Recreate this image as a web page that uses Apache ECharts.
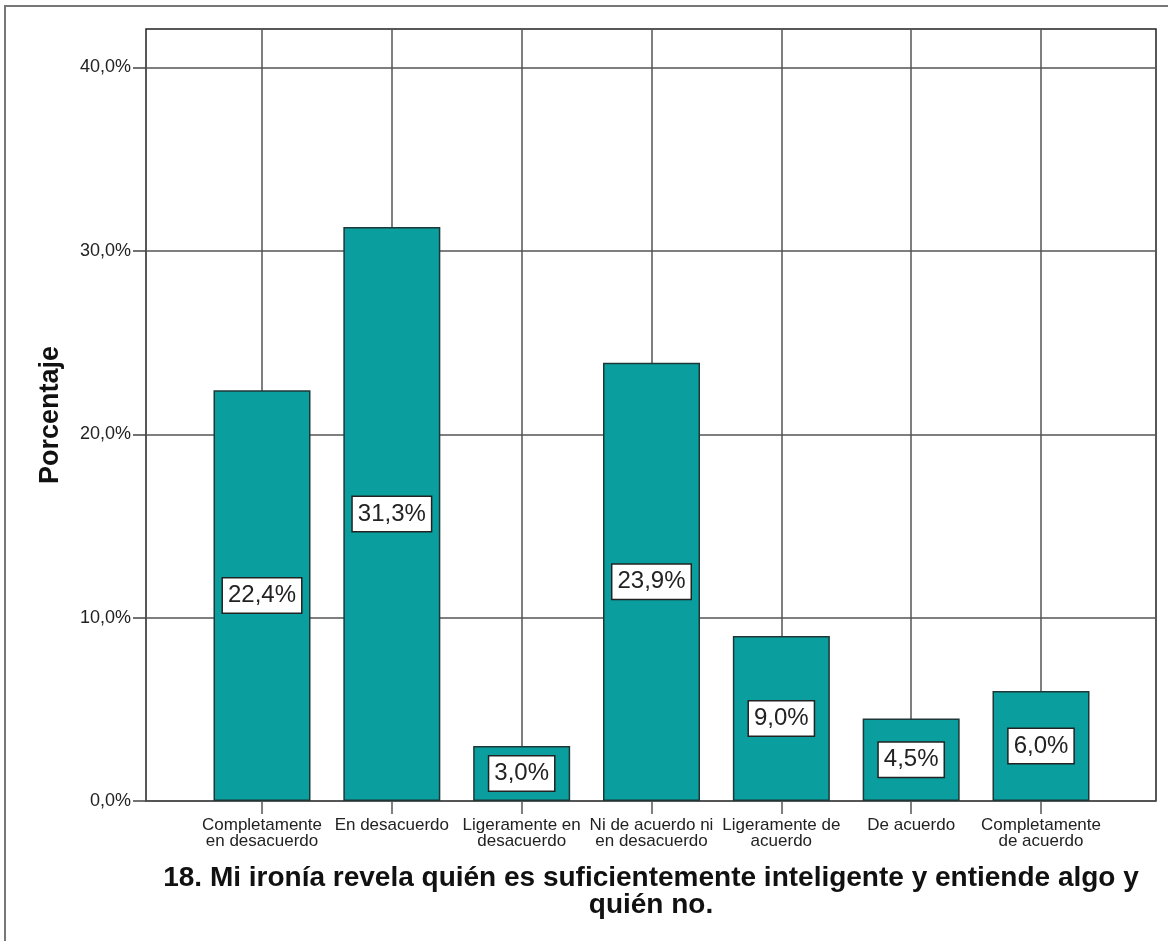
<!DOCTYPE html>
<html>
<head>
<meta charset="utf-8">
<script src="https://cdn.jsdelivr.net/npm/echarts@6/dist/echarts.min.js"></script>
<style>
  html, body { margin: 0; padding: 0; background: #fff; }
  #chart { width: 1168px; height: 941px; }
</style>
</head>
<body>
<div id="chart"></div>
<script>
// categorias y valores (porcentaje)
var categories = [
  'Completamente\nen desacuerdo',
  'En desacuerdo',
  'Ligeramente en\ndesacuerdo',
  'Ni de acuerdo ni\nen desacuerdo',
  'Ligeramente de\nacuerdo',
  'De acuerdo',
  'Completamente\nde acuerdo'
]
var percentages = [22.4, 31.3, 3.0, 23.9, 9.0, 4.5, 6.0]
var yTicks = [0, 10, 20, 30, 40]

var titleText = '18. Mi ironía revela quién es suficientemente inteligente y entiende algo y\nquién no.'
var yName = 'Porcentaje'

function pct(v) {
  return v.toFixed(1).replace('.', ',') + '%'
}

var font = '"Liberation Sans", Arial, sans-serif'
var yMax = 42.1

var myChart = echarts.init(document.getElementById('chart'))
myChart.setOption({
  animation: false,
  textStyle: { fontFamily: font },
  grid: [
    // marco del grafico
    { left: 146, right: 12, top: 29, bottom: 140, show: true, borderColor: '#222', borderWidth: 1.5, containLabel: false },
    // zona de las barras (centros de categoria)
    { left: 262, right: 127, top: 29, bottom: 140, containLabel: false }
  ],
  xAxis: [
    { gridIndex: 0, type: 'value', min: 0, max: 1, show: false },
    {
      gridIndex: 1,
      type: 'category',
      boundaryGap: false,
      data: categories,
      axisLine: { show: false },
      axisTick: { show: true, length: 13, lineStyle: { color: '#555', width: 1.5 } },
      splitLine: { show: true, lineStyle: { color: '#555', width: 1.5 } },
      axisLabel: {
        interval: 0,
        margin: 16,
        fontSize: 17,
        lineHeight: 16,
        color: '#222',
        align: 'center',
        fontFamily: font
      }
    }
  ],
  yAxis: [
    {
      gridIndex: 0,
      type: 'value',
      min: 0,
      max: yMax,
      interval: 10,
      name: yName,
      nameLocation: 'middle',
      nameRotate: 90,
      nameGap: 82,
      nameTextStyle: { fontSize: 27, fontWeight: 'bold', color: '#111', fontFamily: font },
      axisLine: { show: false },
      axisTick: { show: true, length: 13, customValues: yTicks, lineStyle: { color: '#444', width: 1.5 } },
      splitLine: { show: true, lineStyle: { color: '#555', width: 1.5 } },
      axisLabel: {
        margin: 15,
        fontSize: 18,
        color: '#222',
        fontFamily: font,
        customValues: yTicks,
        formatter: function(v) {
          return yTicks.indexOf(v) >= 0 ? pct(v) : ''
        }
      }
    },
    { gridIndex: 1, type: 'value', min: 0, max: yMax, show: false }
  ],
  graphic: [
    {
      type: 'rect',
      silent: true,
      shape: { x: 5, y: 6, width: 1300, height: 1100 },
      style: { fill: 'none', stroke: '#777', lineWidth: 2 }
    },
    {
      type: 'text',
      x: 651,
      y: 865,
      style: {
        text: titleText,
        textAlign: 'center',
        fontSize: 28,
        fontWeight: 'bold',
        fontFamily: font,
        lineHeight: 27,
        fill: '#111'
      }
    }
  ],
  series: [
    {
      type: 'bar',
      xAxisIndex: 1,
      yAxisIndex: 1,
      data: percentages,
      barWidth: 97,
      clip: false,
      itemStyle: { color: '#0a9e9e', borderColor: '#1e3838', borderWidth: 1.5 },
      label: {
        show: true,
        position: 'inside',
        formatter: function(p) {
          return pct(p.value)
        },
        fontSize: 24,
        lineHeight: 26,
        color: '#222',
        fontFamily: font,
        backgroundColor: '#fff',
        borderColor: '#222',
        borderWidth: 1.5,
        padding: [5, 5, 3, 5]
      }
    }
  ]
})
</script>
</body>
</html>
